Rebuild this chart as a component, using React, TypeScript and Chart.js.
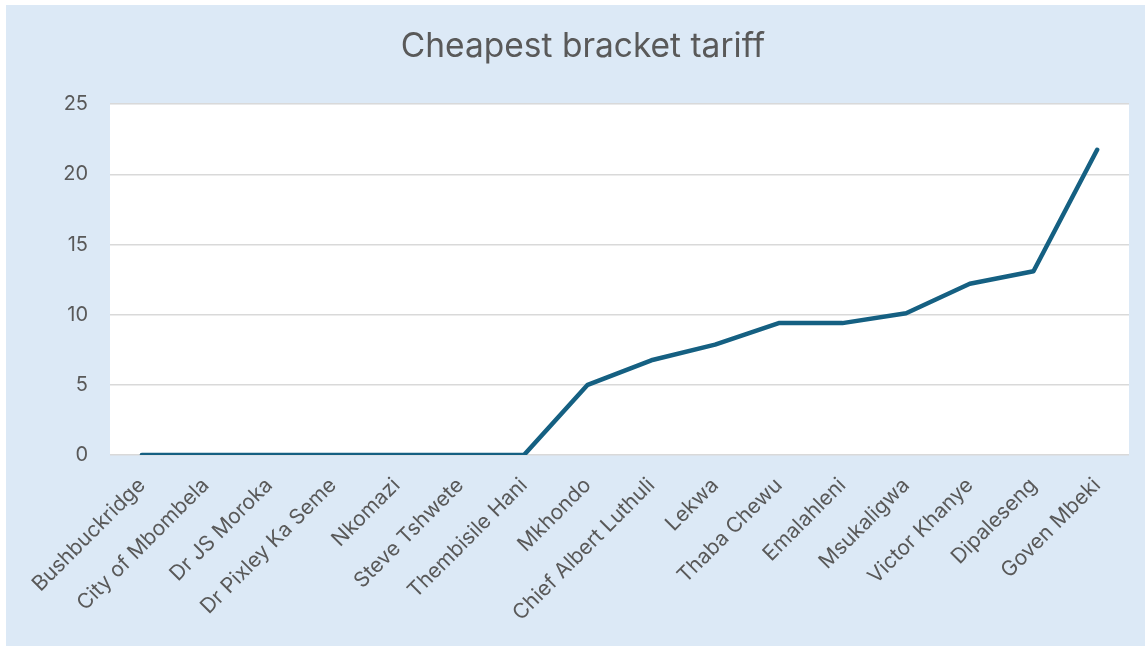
import React, { useEffect, useRef } from "react";
import { Chart, registerables } from "chart.js";

Chart.register(...registerables);

const categories: string[] = [
  "Bushbuckridge",
  "City of Mbombela",
  "Dr JS Moroka",
  "Dr Pixley Ka Seme",
  "Nkomazi",
  "Steve Tshwete",
  "Thembisile Hani",
  "Mkhondo",
  "Chief Albert Luthuli",
  "Lekwa",
  "Thaba Chewu",
  "Emalahleni",
  "Msukaligwa",
  "Victor Khanye",
  "Dipaleseng",
  "Goven Mbeki",
];

const tariffValues: number[] = [0, 0, 0, 0, 0, 0, 0, 5.0, 6.75, 7.87, 9.4, 9.4, 10.1, 12.2, 13.1, 21.75];

const yTicks: number[] = [0, 5, 10, 15, 20, 25];

const chartTitle = "Cheapest bracket tariff";

const TEXT = "#595959";
const FONT = "Inter, 'Open Sans', sans-serif";

export default function App() {
  const ref = useRef<HTMLCanvasElement | null>(null);

  useEffect(() => {
    if (!ref.current) return;
    const chart = new Chart(ref.current, {
      type: "line",
      data: {
        labels: categories,
        datasets: [
          {
            label: chartTitle,
            data: tariffValues,
            borderColor: "#156082",
            backgroundColor: "#156082",
            borderWidth: 4.5,
            pointRadius: 0,
            borderCapStyle: "round",
            borderJoinStyle: "round",
            tension: 0,
          },
        ],
      },
      options: {
        animation: false,
        responsive: false,
        layout: { padding: { left: 31, right: 16, top: 0, bottom: 0 } },
        plugins: {
          legend: { display: false },
          tooltip: { enabled: false },
          title: {
            display: true,
            text: chartTitle,
            color: TEXT,
            font: { family: FONT, size: 33.5, weight: "normal" },
            padding: { top: 22, bottom: 37 },
          },
        },
        scales: {
          x: {
            offset: true,
            grid: { display: false, drawTicks: false },
            border: { display: false },
            ticks: {
              color: TEXT,
              font: { family: FONT, size: 21 },
              maxRotation: 45,
              minRotation: 45,
              autoSkip: false,
              padding: 18,
            },
            afterFit: (scale: any) => {
              scale.height = 191;
            },
          },
          y: {
            min: 0,
            max: 25,
            afterBuildTicks: (scale: any) => {
              scale.ticks = yTicks.map((v) => ({ value: v }));
            },
            grid: { color: "#D9D9D9", lineWidth: 1.5, drawTicks: false },
            border: { display: false },
            ticks: {
              color: TEXT,
              font: { family: FONT, size: 20 },
              padding: 22,
            },
            afterFit: (scale: any) => {
              scale.width = 73;
            },
          },
        },
      },
      plugins: [
        {
          id: "plotBg",
          beforeDraw: (c: any) => {
            const { ctx, chartArea } = c;
            ctx.save();
            ctx.fillStyle = "#FFFFFF";
            ctx.fillRect(chartArea.left, chartArea.top, chartArea.right - chartArea.left, chartArea.bottom - chartArea.top);
            ctx.restore();
          },
        },
      ],
    });
    return () => chart.destroy();
  }, []);

  return (
    <div
      style={{
        position: "fixed",
        left: 0,
        top: 0,
        width: 1145,
        height: 646,
        background: "#FFFFFF",
        paddingLeft: 6,
        paddingTop: 5,
        boxSizing: "border-box",
      }}
    >
      <canvas ref={ref} width={1139} height={641} style={{ display: "block", background: "#DCE9F6" }} />
    </div>
  );
}
